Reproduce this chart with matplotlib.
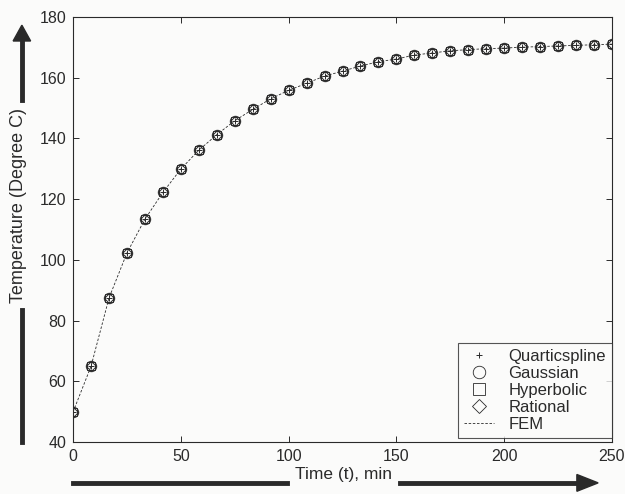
import numpy as np
import matplotlib
matplotlib.use("Agg")
import matplotlib.pyplot as plt
from matplotlib.lines import Line2D
from matplotlib.patches import FancyArrow

plt.rcParams['font.family'] = ['Liberation Sans', 'DejaVu Sans']

# time in minutes, 31 nodes from 0 to 250
time_min = [0, 8.33, 16.67, 25, 33.33, 41.67, 50, 58.33, 66.67, 75, 83.33,
            91.67, 100, 108.33, 116.67, 125, 133.33, 141.67, 150, 158.33,
            166.67, 175, 183.33, 191.67, 200, 208.33, 216.67, 225, 233.33,
            241.67, 250]

fem = [50.0, 65.0, 87.5, 102.3, 113.4, 122.2, 129.9, 136.1, 141.2, 145.8,
       149.5, 153.0, 155.8, 158.1, 160.5, 162.1, 163.8, 165.2, 166.1, 167.4,
       168.1, 168.8, 169.2, 169.5, 169.7, 170.0, 170.2, 170.4, 170.6, 170.8,
       171.0]
# EFG results with different weight functions practically coincide with FEM
quarticspline = list(fem)
gaussian = list(fem)
hyperbolic = list(fem)
rational = list(fem)

ink = '#2a2a2a'
paper = '#fbfbfa'

fig = plt.figure(figsize=(6.25, 4.94), dpi=100, facecolor=paper)
ax = fig.add_axes([0.117, 0.105, 0.862, 0.861])
ax.set_facecolor(paper)

ax.plot(time_min, fem, linestyle='--', color=ink, linewidth=0.6, dashes=(3, 2))
ax.plot(time_min, quarticspline, linestyle='none', marker='+', color=ink,
        markersize=4, markeredgewidth=0.7)
ax.plot(time_min, gaussian, linestyle='none', marker='o', markerfacecolor='none',
        markeredgecolor=ink, markersize=7.5, markeredgewidth=0.7)
ax.plot(time_min, hyperbolic, linestyle='none', marker='s', markerfacecolor='none',
        markeredgecolor=ink, markersize=5.5, markeredgewidth=0.7)
ax.plot(time_min, rational, linestyle='none', marker='D', markerfacecolor='none',
        markeredgecolor=ink, markersize=5, markeredgewidth=0.7)

ax.set_xlim(0, 250)
ax.set_ylim(40, 180)
ax.set_xticks([0, 50, 100, 150, 200, 250])
ax.set_yticks([40, 60, 80, 100, 120, 140, 160, 180])
ax.tick_params(direction='in', top=True, right=True, labelsize=11.5,
               colors=ink, length=4, width=0.7, pad=5)
for s in ax.spines.values():
    s.set_color(ink)
    s.set_linewidth(0.8)

handles = [
    Line2D([], [], linestyle='none', marker='+', color=ink, markersize=4,
           markeredgewidth=0.7),
    Line2D([], [], linestyle='none', marker='o', markerfacecolor='none',
           markeredgecolor=ink, markersize=9, markeredgewidth=0.6),
    Line2D([], [], linestyle='none', marker='s', markerfacecolor='none',
           markeredgecolor=ink, markersize=8, markeredgewidth=0.6),
    Line2D([], [], linestyle='none', marker='D', markerfacecolor='none',
           markeredgecolor=ink, markersize=7, markeredgewidth=0.6),
    Line2D([], [], linestyle='--', color=ink, linewidth=0.6, dashes=(3, 2)),
]
labels = ['Quarticspline', 'Gaussian', 'Hyperbolic', 'Rational', 'FEM']
leg = ax.legend(handles, labels, loc='lower right', bbox_to_anchor=(1.0, 0.01),
                frameon=True, fancybox=False, fontsize=12, handlelength=1.8,
                handletextpad=0.9, labelspacing=0.12, borderpad=0.35,
                borderaxespad=0.0)
leg.get_frame().set_edgecolor(ink)
leg.get_frame().set_linewidth(0.8)
leg.get_frame().set_facecolor(paper)
for t in leg.get_texts():
    t.set_color(ink)

# y label with its arrow
fig.text(0.029, 0.585, 'Temperature (Degree C)', rotation=90, ha='center',
         va='center', fontsize=13, color=ink)
fig.add_artist(Line2D([0.035, 0.035], [0.105, 0.372], color=ink, linewidth=3.5))
fig.add_artist(Line2D([0.035, 0.035], [0.798, 0.925], color=ink, linewidth=3.5))
fig.add_artist(FancyArrow(0.035, 0.915, 0, 0.034, width=0.0, head_width=0.028,
                          head_length=0.032, length_includes_head=True,
                          color=ink, transform=fig.transFigure))

# x label with its arrow
fig.text(0.549, 0.0385, 'Time (t), min', ha='center', va='center',
         fontsize=12.5, color=ink)
fig.add_artist(Line2D([0.117, 0.459], [0.0225, 0.0225], color=ink, linewidth=3.5))
fig.add_artist(Line2D([0.64, 0.93], [0.0225, 0.0225], color=ink, linewidth=3.5))
fig.add_artist(FancyArrow(0.92, 0.0225, 0.037, 0, width=0.0, head_width=0.034,
                          head_length=0.034, length_includes_head=True,
                          color=ink, transform=fig.transFigure))

fig.savefig('out.png', dpi=100, facecolor=fig.get_facecolor())
